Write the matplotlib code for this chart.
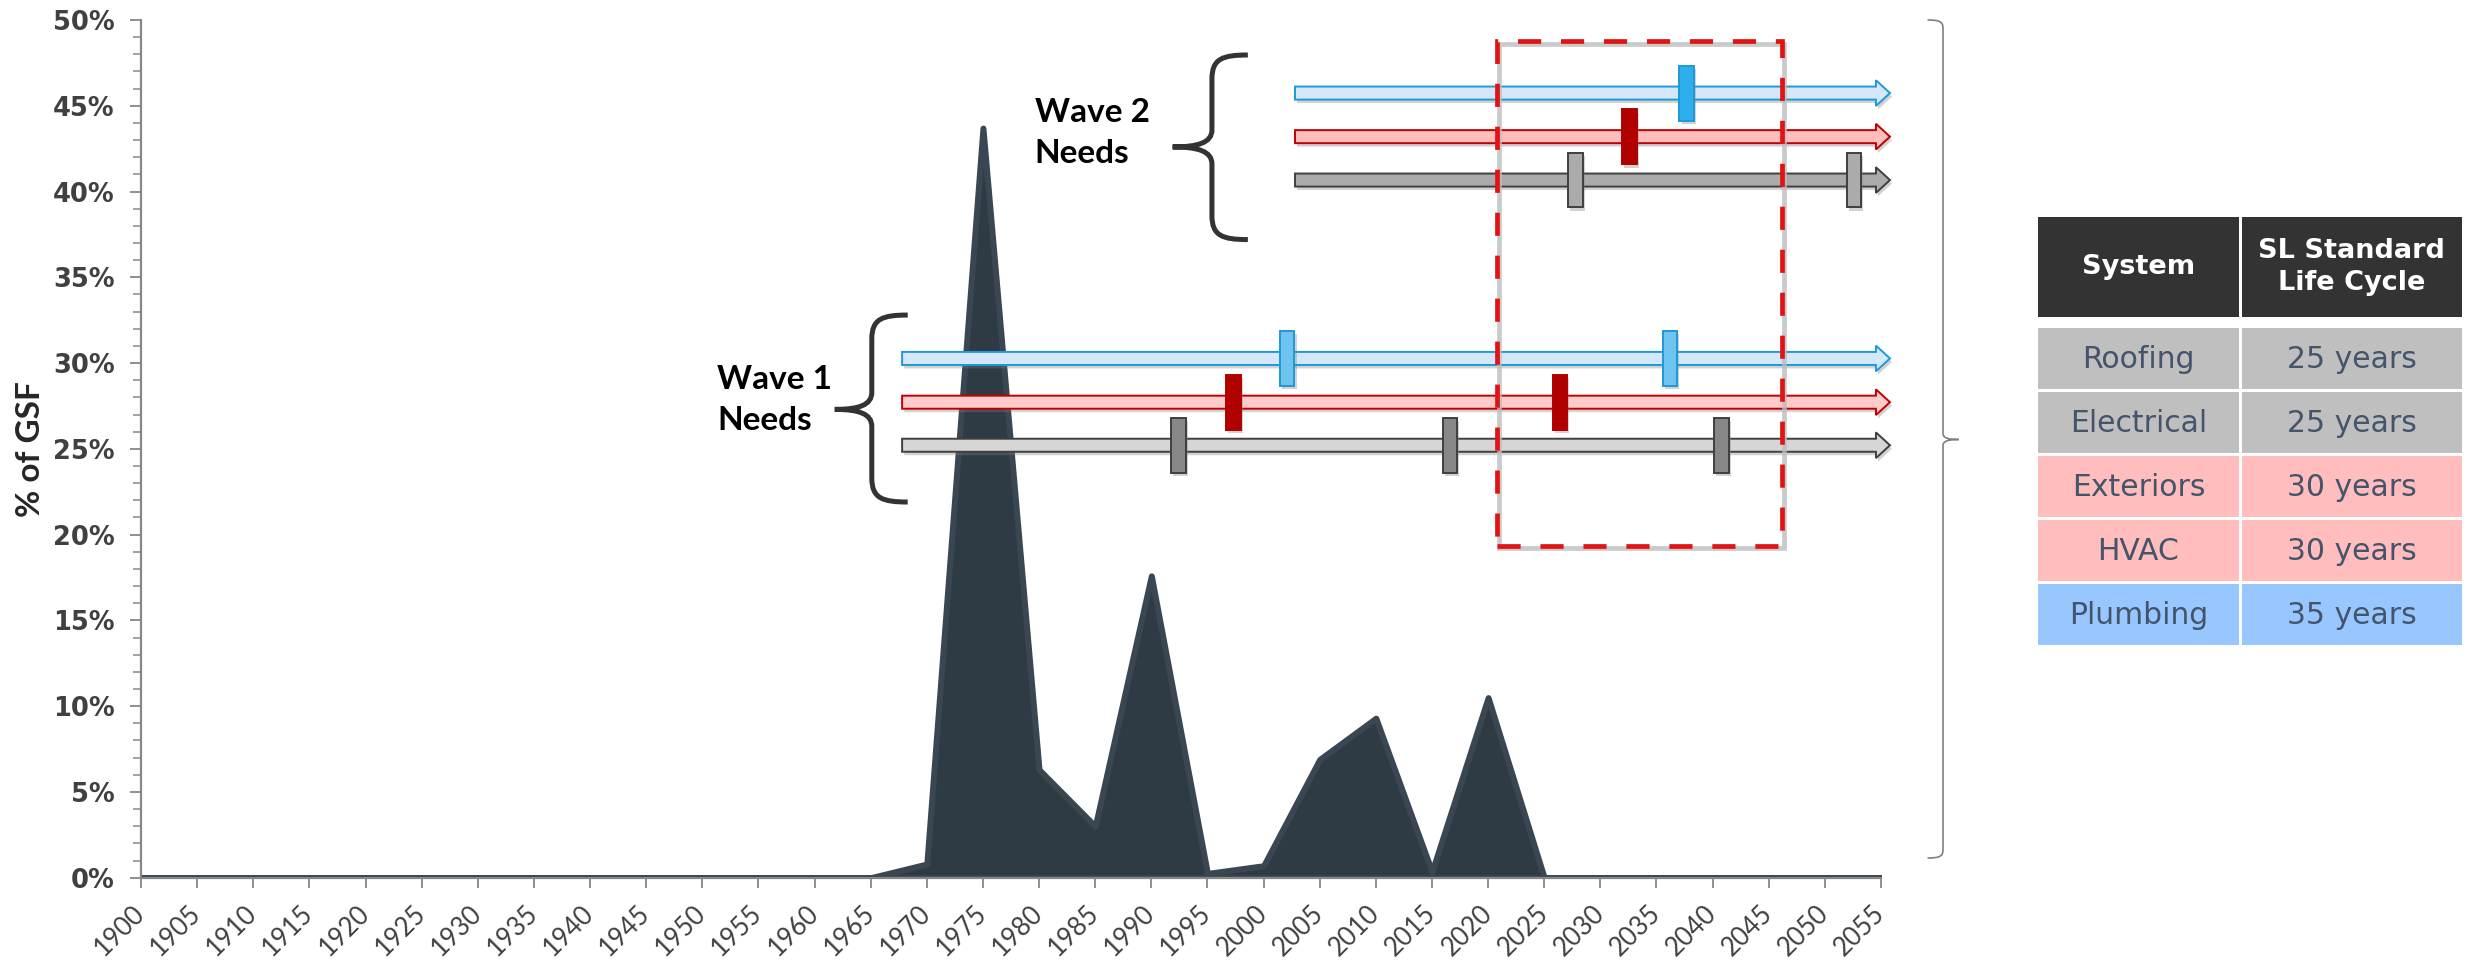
import matplotlib
matplotlib.use("Agg")
import matplotlib.pyplot as plt
from matplotlib.patches import Rectangle, FancyArrow, PathPatch
from matplotlib.path import Path
import matplotlib.patheffects as pe
from matplotlib.ticker import MultipleLocator

# ---------------- data ----------------
years = list(range(1900, 2060, 5))
year_labels = [str(y) for y in years]
gsf_pct = [0, 0, 0, 0, 0, 0, 0, 0, 0, 0, 0, 0, 0, 0,
           0.8, 43.7, 6.3, 3.0, 17.6, 0.25, 0.7, 6.9, 9.3, 0.35, 10.5,
           0, 0, 0, 0, 0, 0, 0]

y_ticks = list(range(0, 55, 5))
y_tick_labels = [f"{v}%" for v in y_ticks]
y_label = "% of GSF"

systems = ["Roofing", "Electrical", "Exteriors", "HVAC", "Plumbing"]
life_cycles = ["25 years", "25 years", "30 years", "30 years", "35 years"]
table_header = ["System", "SL Standard\nLife Cycle"]

wave_labels = ["Wave 1\nNeeds", "Wave 2\nNeeds"]
wave_start = [1967.8, 2002.8]
arrow_end = 2055.8
wave1_lane_y = [30.27, 27.72, 25.21]          # plumbing, exteriors/hvac, roofing/electrical
wave2_lane_y = [45.74, 43.20, 40.67]
wave1_marks = [[2002.1, 2036.2], [1997.3, 2026.4], [1992.4, 2016.6, 2040.8]]
wave2_marks = [[2037.7], [2032.6], [2027.8, 2052.6]]
focus_years = [2020.8, 2046.2]
focus_pct = [19.35, 48.76]

# ---------------- styles ----------------
W, H = 2471, 968
fig = plt.figure(figsize=(W / 100, H / 100), dpi=100)
ax = fig.add_axes([141 / W, 1 - 877.7 / H, 1740 / W, 857.7 / H])

AREA_FILL = "#2E3A44"
AREA_EDGE = "#3A4651"
AXIS_GRAY = "#878787"
TICK_TXT = "#404040"

ax.fill_between(years, gsf_pct, 0, facecolor=AREA_FILL, edgecolor=AREA_EDGE,
                linewidth=4.3, joinstyle="round", zorder=1)

ax.set_xlim(years[0], years[-1])
ax.set_ylim(0, 50)
ax.set_xticks(years)
ax.set_xticklabels(year_labels, rotation=45, ha="right", va="center",
                   rotation_mode="anchor", fontsize=18.5, family="Lato", color=TICK_TXT)
ax.set_yticks(y_ticks)
ax.set_yticklabels(y_tick_labels, fontsize=18.5, family="DejaVu Sans",
                   fontweight="bold", color=TICK_TXT)
ax.yaxis.set_minor_locator(MultipleLocator(1))
ax.tick_params(axis="y", which="major", length=8, width=1.3, color=AXIS_GRAY, pad=11)
ax.tick_params(axis="y", which="minor", length=5.8, width=1.1, color=AXIS_GRAY)
ax.tick_params(axis="x", which="major", length=7, width=1.3, color=AXIS_GRAY, pad=16)
for s in ["top", "right"]:
    ax.spines[s].set_visible(False)
for s in ["left", "bottom"]:
    ax.spines[s].set_color(AXIS_GRAY)
    ax.spines[s].set_linewidth(1.6)
    ax.spines[s].set_zorder(3)
ax.set_ylabel(y_label, fontsize=24, family="Lato", fontweight="bold", color="#262626")
ax.yaxis.set_label_coords(-0.055, 0.50)

shadow = [pe.SimplePatchShadow(offset=(1.5, -2.5), shadow_rgbFace="#808080", alpha=0.35),
          pe.Normal()]

lane_styles = [
    # wave 1: (shaft fill, shaft edge, mark fill, mark edge)
    [("#D5E7FB", "#1C9AD6", "#6EC4EE", "#1C9AD6"),
     ("#FFCBCB", "#C00000", "#B00000", "#B00000"),
     ("#D6D6D6", "#3F3F3F", "#878787", "#3F3F3F")],
    # wave 2
    [("#D5E7FB", "#1C9AD6", "#2FAEEE", "#1C9AD6"),
     ("#FFBDBD", "#C00000", "#B00000", "#B00000"),
     ("#ABABAB", "#3F3F3F", "#ABABAB", "#3F3F3F")],
]

SHAFT_W = 0.76      # % units
HEAD_W = 1.5
HEAD_L = 1.25       # years
MARK_W = 1.3        # years
MARK_H = 3.2        # %

for wi, (lane_y, marks) in enumerate([(wave1_lane_y, wave1_marks), (wave2_lane_y, wave2_marks)]):
    for li, (yv, mk) in enumerate(zip(lane_y, marks)):
        sf, se, mf, me = lane_styles[wi][li]
        arr = FancyArrow(wave_start[wi], yv, arrow_end - wave_start[wi], 0,
                         width=SHAFT_W, head_width=HEAD_W, head_length=HEAD_L,
                         length_includes_head=True, facecolor=sf, edgecolor=se,
                         linewidth=1.4, clip_on=False, zorder=4)
        arr.set_path_effects(shadow)
        ax.add_patch(arr)
        for xm in mk:
            r = Rectangle((xm - MARK_W / 2, yv - MARK_H / 2), MARK_W, MARK_H,
                          facecolor=mf, edgecolor=me, linewidth=1.4, clip_on=False, zorder=5)
            r.set_path_effects(shadow)
            ax.add_patch(r)


def curly(a, x_tip, x_line, x_end, y_bot, y_mid, y_top, ry_end, ry_mid, **kw):
    dt = x_line - x_tip
    de = x_end - x_line
    verts = [
        (x_end, y_top),
        (x_line + 0.3 * de, y_top), (x_line, y_top - 0.15 * ry_end), (x_line, y_top - ry_end),
        (x_line, y_mid + ry_mid),
        (x_line, y_mid + 0.25 * ry_mid), (x_line - 0.35 * dt, y_mid), (x_tip, y_mid),
        (x_line - 0.35 * dt, y_mid), (x_line, y_mid - 0.25 * ry_mid), (x_line, y_mid - ry_mid),
        (x_line, y_bot + ry_end),
        (x_line, y_bot + 0.15 * ry_end), (x_line + 0.3 * de, y_bot), (x_end, y_bot),
    ]
    codes = [Path.MOVETO, Path.CURVE4, Path.CURVE4, Path.CURVE4, Path.LINETO,
             Path.CURVE4, Path.CURVE4, Path.CURVE4, Path.CURVE4, Path.CURVE4, Path.CURVE4,
             Path.LINETO, Path.CURVE4, Path.CURVE4, Path.CURVE4]
    p = PathPatch(Path(verts, codes), fill=False, clip_on=False, **kw)
    a.add_patch(p)
    return p


# wave brackets (data coords)
curly(ax, 1961.8, 1965.1, 1968.3, 21.9, 27.3, 32.8, 1.4, 1.0,
      edgecolor="#333333", linewidth=3.6, zorder=6)
curly(ax, 1991.9, 1995.4, 1998.6, 37.2, 42.6, 47.96, 1.4, 1.0,
      edgecolor="#333333", linewidth=3.6, zorder=6)

ax.text(1951.3, 27.85, wave_labels[0], fontsize=24, family="Lato", fontweight="bold",
        color="black", ha="left", va="center", linespacing=1.5, zorder=6)
ax.text(1979.6, 43.4, wave_labels[1], fontsize=24, family="Lato", fontweight="bold",
        color="black", ha="left", va="center", linespacing=1.5, zorder=6)

# focus box with soft shadow
fw = focus_years[1] - focus_years[0]
fh = focus_pct[1] - focus_pct[0]
ax.add_patch(Rectangle((focus_years[0] + 0.2, focus_pct[0] - 0.15), fw, fh, fill=False,
                       edgecolor="#BDBDBD", linewidth=3.4, alpha=0.8, clip_on=False, zorder=7))
ax.add_patch(Rectangle((focus_years[0], focus_pct[0]), fw, fh, fill=False,
                       edgecolor="#E01414", linewidth=3.4, linestyle=(0, (4.9, 4.2)),
                       clip_on=False, zorder=8))

# ---------------- overlay (pixel coords) for table and side bracket ----------------
ov = fig.add_axes([0, 0, 1, 1], facecolor="none")
ov.set_xlim(0, W)
ov.set_ylim(H, 0)
ov.axis("off")

curly(ov, 1958.6, 1943, 1927.5, 858, 439.5, 20, -8, -6,
      edgecolor="#7F7F7F", linewidth=1.2)

row_colors = ["#BFBFBF", "#BFBFBF", "#FFBDBD", "#FFBDBD", "#98C7FF"]
col_x = [2038, 2241.5]
col_w = [201, 220.5]
hdr_top, hdr_h = 217, 100
row_top0, row_pitch, row_h = 328, 64, 61

for ci in range(2):
    ov.add_patch(Rectangle((col_x[ci], hdr_top), col_w[ci], hdr_h, facecolor="#333333",
                           edgecolor="none"))
    ov.text(col_x[ci] + col_w[ci] / 2, hdr_top + hdr_h / 2, table_header[ci], color="white",
            fontsize=19.5, fontweight="bold", family="DejaVu Sans", ha="center", va="center",
            linespacing=1.3)
for ri, (sname, life) in enumerate(zip(systems, life_cycles)):
    yt = row_top0 + ri * row_pitch
    for ci, txt in enumerate([sname, life]):
        ov.add_patch(Rectangle((col_x[ci], yt), col_w[ci], row_h, facecolor=row_colors[ri],
                               edgecolor="none"))
        ov.text(col_x[ci] + col_w[ci] / 2, yt + row_h / 2 + 1, txt, color="#44546A",
                fontsize=21.5, family="DejaVu Sans", ha="center", va="center")

fig.savefig("out.png", dpi=100)
